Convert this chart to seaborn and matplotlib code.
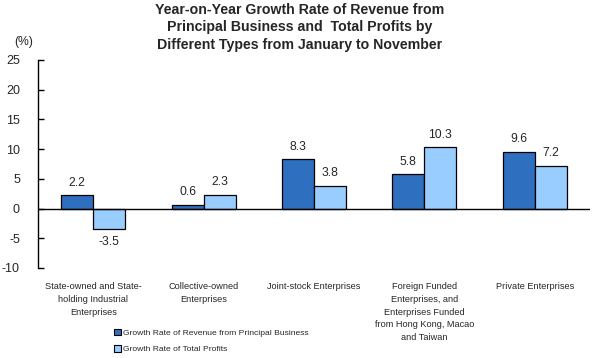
import matplotlib
matplotlib.use("Agg")
import matplotlib.pyplot as plt
import numpy as np
import pandas as pd
import seaborn as sns

# === Data ===
categories = [
    "State-owned and State-\nholding Industrial\nEnterprises",
    "Collective-owned\nEnterprises",
    "Joint-stock Enterprises",
    "Foreign Funded\nEnterprises, and\nEnterprises Funded\nfrom Hong Kong, Macao\nand Taiwan",
    "Private Enterprises",
]
revenue_growth = [2.2, 0.6, 8.3, 5.8, 9.6]
profit_growth = [-3.5, 2.3, 3.8, 10.3, 7.2]
series_names = ["Growth Rate of Revenue from Principal Business", "Growth Rate of Total Profits"]
y_ticks = [-10, -5, 0, 5, 10, 15, 20, 25]

df = pd.DataFrame({
    "cat": categories * 2,
    "value": revenue_growth + profit_growth,
    "series": [series_names[0]] * 5 + [series_names[1]] * 5,
})

sns.set_style("white")
plt.rcParams["font.family"] = ["Liberation Sans", "DejaVu Sans"]
plt.rcParams["axes.unicode_minus"] = False

fig = plt.figure(figsize=(5.95, 3.58), dpi=100)
ax = fig.add_axes([38 / 595, 90 / 358, 552 / 595, 208 / 358])

palette = {series_names[0]: "#2E6FBF", series_names[1]: "#99CCFF"}
sns.barplot(data=df, x="cat", y="value", hue="series", palette=palette,
            width=0.58, edgecolor="black", linewidth=0.9, saturation=1,
            ax=ax, legend=False)

# value labels
for cont in ax.containers:
    for bar in cont:
        h = bar.get_height()
        xc = bar.get_x() + bar.get_width() / 2
        if h >= 0:
            ax.text(xc, h + 1.1, f"{h:.1f}", ha="center", va="bottom", fontsize=8.7)
        else:
            ax.text(xc, h - 1.1, f"{h:.1f}", ha="center", va="top", fontsize=8.7)

ax.axhline(0, color="black", linewidth=1)
ax.set_ylim(-10, 25)
ax.set_xlim(-0.5, 4.5)
ax.set_yticks(y_ticks)
ax.tick_params(axis="y", left=True, direction="in", length=4, width=1,
               color="black", pad=13, labelsize=9)
ax.set_xticks(range(len(categories)))
ax.set_xticklabels(categories, fontsize=6.6, linespacing=1.55)
ax.tick_params(axis="x", bottom=False, length=0, pad=10)
ax.set_xlabel("")
ax.set_ylabel("")
for s in ["top", "right", "bottom"]:
    ax.spines[s].set_visible(False)
ax.spines["left"].set_color("black")
ax.spines["left"].set_linewidth(1)

fig.text(14 / 595, 1 - 42 / 358, "(%)", fontsize=8.7, ha="left", va="center")
fig.text(300 / 595, 1 - 3 / 358,
         "Year-on-Year Growth Rate of Revenue from\nPrincipal Business and  Total Profits by\nDifferent Types from January to November",
         ha="center", va="top", fontsize=10.2, fontweight="bold", linespacing=1.3)

handles = [plt.Rectangle((0, 0), 1, 1, facecolor=palette[n], edgecolor="black", linewidth=0.8)
           for n in series_names]
fig.legend(handles, series_names, loc="upper left", bbox_to_anchor=(114 / 595, 1 - 329 / 358),
           frameon=False, fontsize=6.1, handlelength=0.8, handleheight=0.8,
           handletextpad=0.3, labelspacing=0.95, borderpad=0, borderaxespad=0)

fig.savefig("out.png", dpi=100)
